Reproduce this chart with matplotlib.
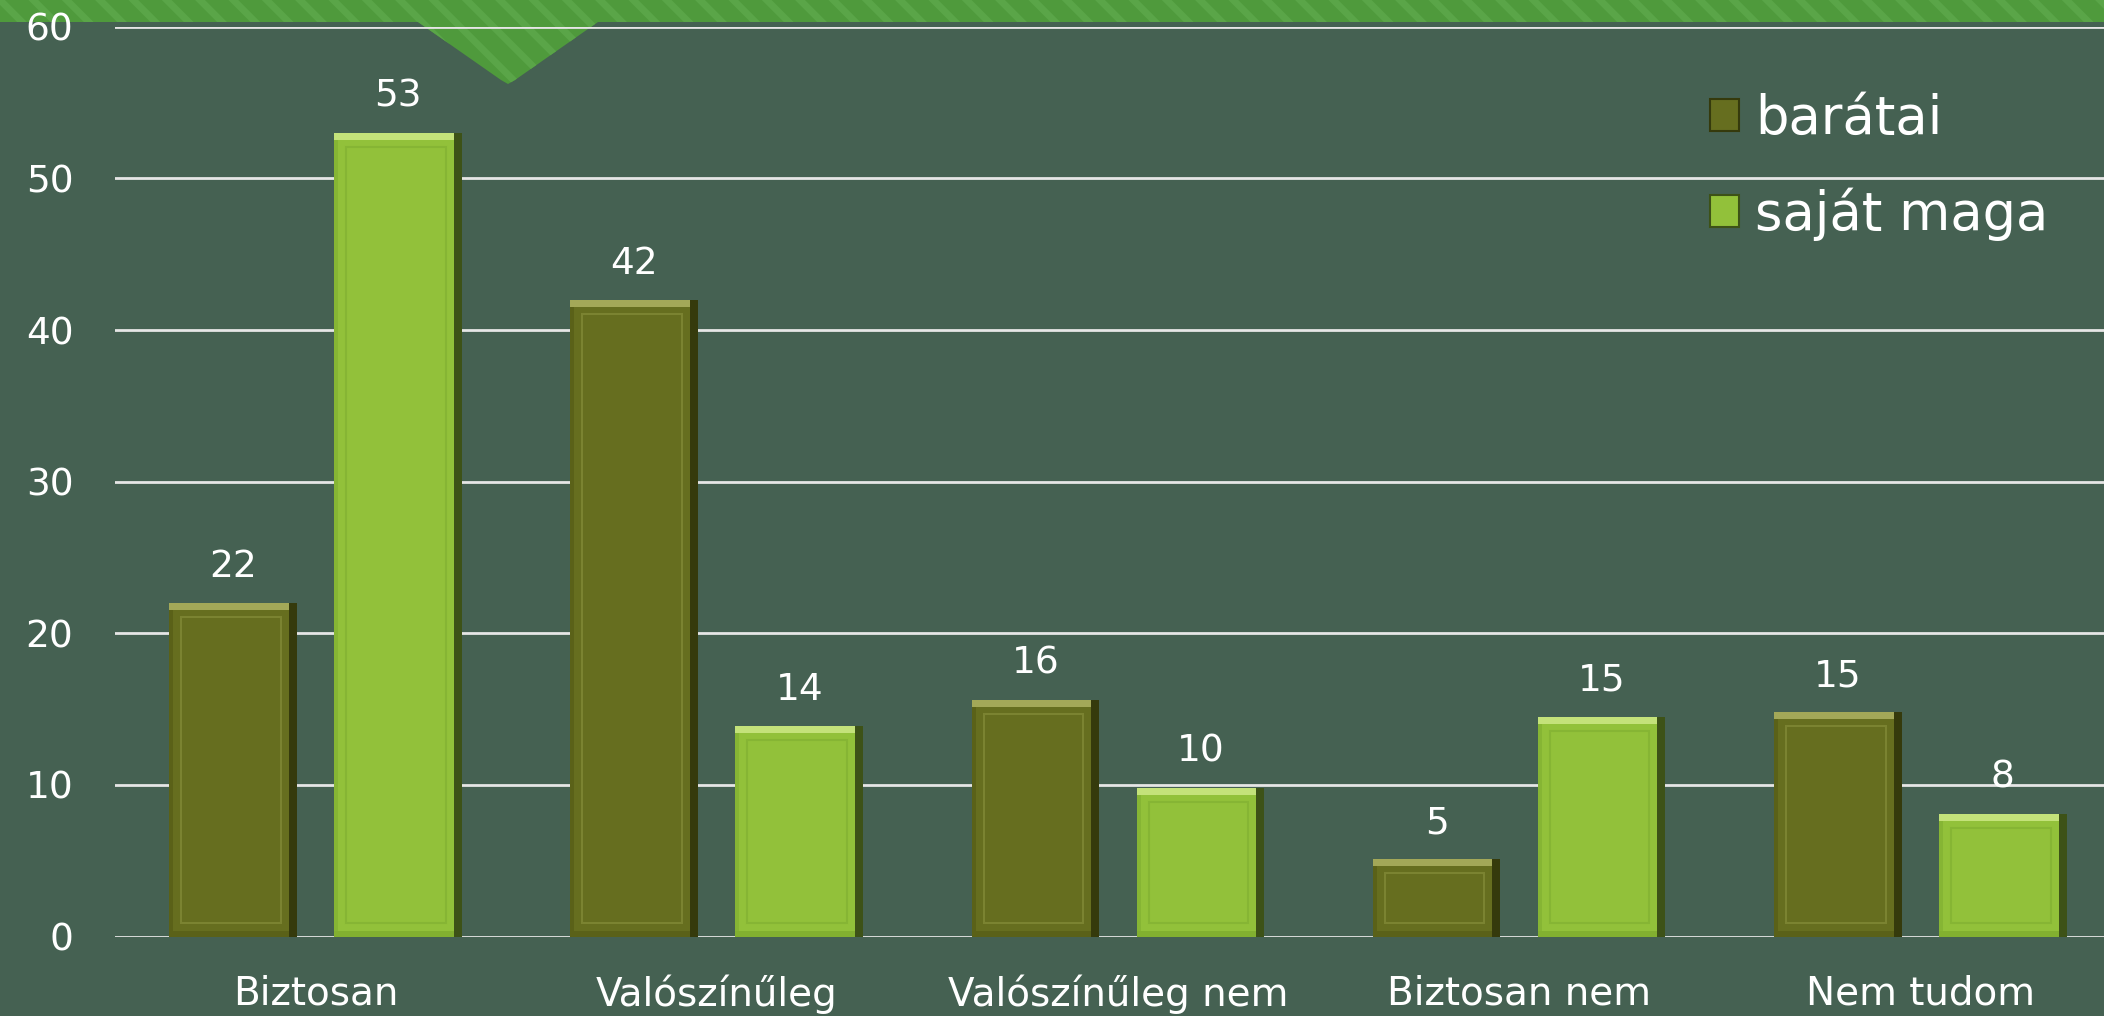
import numpy as np
import matplotlib
matplotlib.use("Agg")
from matplotlib import pyplot as plt
from matplotlib.patches import Polygon, Patch

plt.rcParams['font.family'] = ['DejaVu Sans']
plt.rcParams['hatch.linewidth'] = 5

categories = ['Biztosan', 'Valószínűleg', 'Valószínűleg nem', 'Biztosan nem', 'Nem tudom']
series_names = ['barátai', 'saját maga']
baratai = [22, 42, 15.6, 5.1, 14.8]
sajat = [53, 13.9, 9.8, 14.5, 8.1]
baratai_labels = ['22', '42', '16', '5', '15']
sajat_labels = ['53', '14', '10', '15', '8']
yticks = [0, 10, 20, 30, 40, 50, 60]

bg = '#456152'
W, H = 2104, 1016

fig = plt.figure(figsize=(W / 100, H / 100), dpi=100, facecolor=bg)

# green banner with notch at the top
pts = [(0, -5), (W, -5), (W, 22), (598, 22), (515, 80), (508, 84), (501, 80), (418, 22), (0, 22)]
pts = [(px / W, 1 - py / H) for px, py in pts]
banner = Polygon(pts, closed=True, transform=fig.transFigure, facecolor='#4f9a3c',
                 edgecolor='#5aa548', hatch='\\', linewidth=0, zorder=-10)
fig.patches.append(banner)

ax = fig.add_axes([115 / W, 79.4 / H, 1 - 115 / W, (936.6 - 26.8) / H])
ax.set_facecolor('none')
ax.set_xlim(-0.5, 4.458)
ax.set_ylim(0, 60)

px_x = 4.958 / (W - 115)
px_y = 60 / 909.8
w = 0.318
off = 0.2057
x = np.arange(len(categories))

styles = [
    dict(main='#666e1f', shade='#353a0c', top='#a3a858', inner='#7b8331', bottom='#5a6118', left='#5a6118'),
    dict(main='#92c13a', shade='#3d5217', top='#c4e27a', inner='#86b534', bottom='#82b030', left='#86b534'),
]

for vals, labels, st, dx in [(baratai, baratai_labels, styles[0], -off), (sajat, sajat_labels, styles[1], off)]:
    xs = x + dx
    vals = np.array(vals)
    ax.bar(xs, vals, width=w, color=st['main'], zorder=3)
    # bevel: right shade, left shade, top highlight, bottom shade, inner frame
    sw = 8 * px_x
    ax.bar(xs + w / 2 - sw / 2, vals, width=sw, color=st['shade'], zorder=4)
    ax.bar(xs - w / 2 + 2 * px_x, vals, width=4 * px_x, color=st['left'], zorder=4)
    th = 7 * px_y
    ax.bar(xs - sw / 2, th, bottom=vals - th, width=w - sw, color=st['top'], zorder=4)
    ax.bar(xs - sw / 2, 6 * px_y, width=w - sw, color=st['bottom'], zorder=4)
    ins_x = 14 * px_x
    ins_y = 14 * px_y
    ax.bar(xs - sw / 4, vals - 2 * ins_y, bottom=ins_y, width=w - 2 * ins_x,
           fill=False, edgecolor=st['inner'], linewidth=1.5, zorder=5)
    for xi, v, lab in zip(xs, vals, labels):
        ax.annotate(lab, (xi, v), xytext=(0, 26), textcoords='offset points',
                    ha='center', va='center', color='white', fontsize=27)

ax.set_yticks(yticks)
ax.set_xticks(x)
ax.set_xticklabels(categories)
ax.yaxis.grid(True, color='#e6e6e6', linewidth=2)
ax.set_axisbelow(True)
for s in ax.spines.values():
    s.set_visible(False)
ax.tick_params(axis='both', length=0, labelcolor='white')
ax.tick_params(axis='y', pad=30, labelsize=27)
ax.tick_params(axis='x', pad=27, labelsize=28)

handles = [Patch(facecolor=styles[0]['main'], edgecolor=styles[0]['shade'], linewidth=1.5),
           Patch(facecolor=styles[1]['main'], edgecolor=styles[1]['shade'], linewidth=1.5)]
leg = fig.legend(handles, series_names, loc='upper left', bbox_to_anchor=(1710 / W, 1 - 93 / H),
                 frameon=False, fontsize=38, handlelength=0.55, handleheight=0.55,
                 handletextpad=0.3, labelspacing=0.8, borderaxespad=0, borderpad=0)
for t in leg.get_texts():
    t.set_color('white')

fig.savefig('out.png', dpi=100, facecolor=bg)
